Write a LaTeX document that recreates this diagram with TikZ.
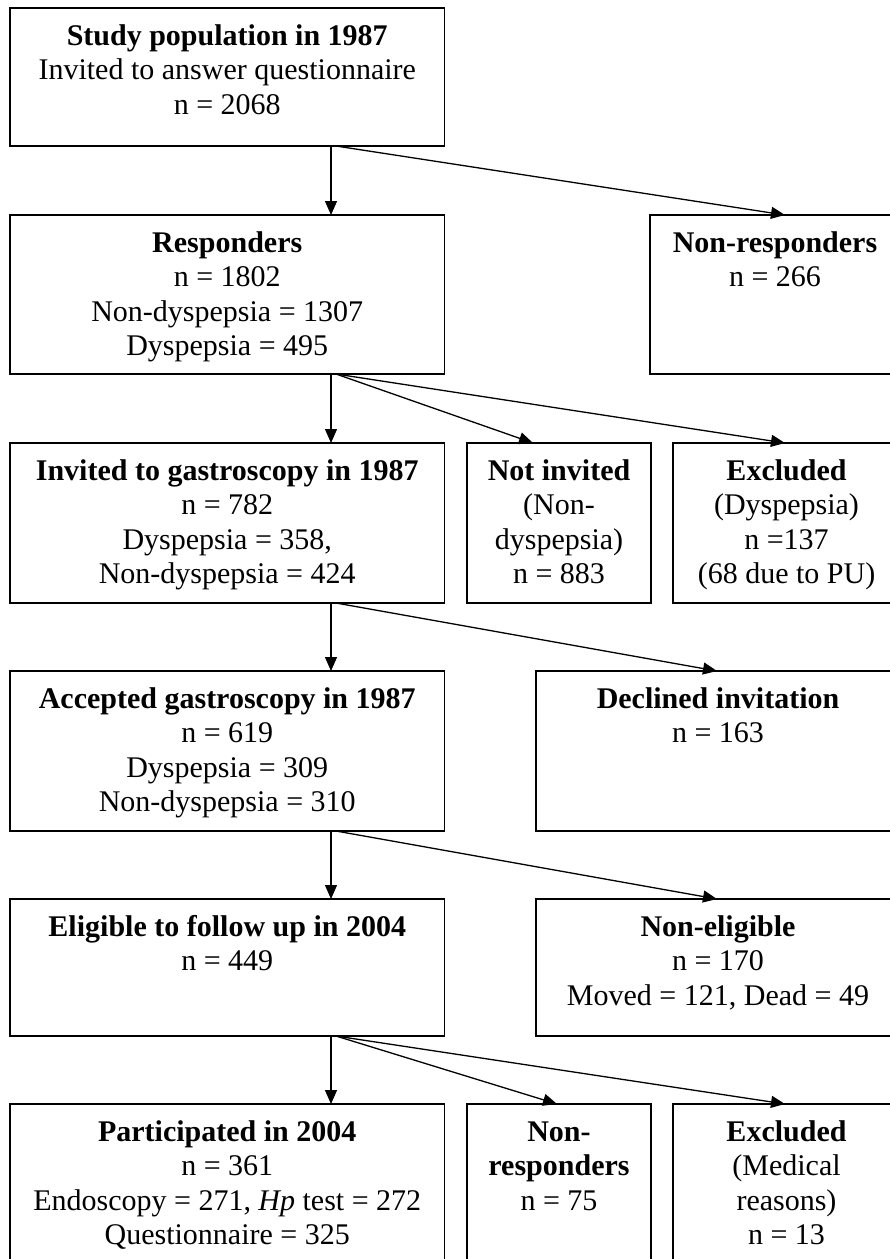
\documentclass[tikz,border=0pt]{standalone}
\usepackage{fontspec}
\setmainfont{Liberation Serif}
\usetikzlibrary{arrows.meta}
\begin{document}
\begin{tikzpicture}[x=1pt,y=-1pt,
  box/.style={draw, line width=1.5pt, inner sep=0pt, outer sep=0pt, anchor=north west},
  txt/.style={align=center, inner sep=0pt, anchor=north, font=\fontsize{30}{34.5}\selectfont},
  arr/.style={line width=1.3pt, -{Triangle[length=14pt,width=12pt]}}]
\useasboundingbox (0,0) rectangle (890,1259);
\clip (0,0) rectangle (890,1259);
% boxes
\node[box, minimum width=434.5pt, minimum height=138pt] (b1) at (10,8) {};
\node[box, minimum width=434.5pt, minimum height=159pt] (resp) at (10,215) {};
\node[box, minimum width=250pt, minimum height=159pt] (nonresp) at (650,215) {};
\node[box, minimum width=434.5pt, minimum height=160pt] (inv) at (10,443) {};
\node[box, minimum width=184pt, minimum height=160pt] (notinv) at (467,443) {};
\node[box, minimum width=227pt, minimum height=160pt] (exca) at (673,443) {};
\node[box, minimum width=434.5pt, minimum height=160pt] (acc) at (10,671) {};
\node[box, minimum width=364pt, minimum height=160pt] (dec) at (536,671) {};
\node[box, minimum width=434.5pt, minimum height=137pt] (elig) at (10,899) {};
\node[box, minimum width=364pt, minimum height=137pt] (nonelig) at (536,899) {};
\node[box, minimum width=434.5pt, minimum height=160pt] (part) at (10,1104) {};
\node[box, minimum width=184pt, minimum height=160pt] (nonrespb) at (467,1104) {};
\node[box, minimum width=227pt, minimum height=160pt] (excb) at (673,1104) {};
% texts
\node[txt] (t1) at ([yshift=-12.8pt]b1.north) {\strut\textbf{Study population in 1987}\\Invited to answer questionnaire\\n = 2068};
\node[txt] (t2) at ([yshift=-12.8pt]resp.north) {\strut\textbf{Responders}\\n = 1802\\Non-dyspepsia = 1307\\Dyspepsia = 495};
\node[txt] (t3) at ([yshift=-12.8pt]nonresp.north) {\strut\textbf{Non-responders}\\n = 266};
\node[txt] (t4) at ([yshift=-12.8pt]inv.north) {\strut\textbf{Invited to gastroscopy in 1987}\\n = 782\\Dyspepsia = 358,\\Non-dyspepsia = 424};
\node[txt] (t5) at ([yshift=-12.8pt]notinv.north) {\strut\textbf{Not invited}\\(Non-\\dyspepsia)\\n = 883};
\node[txt] (t6) at ([yshift=-12.8pt]exca.north) {\strut\textbf{Excluded}\\(Dyspepsia)\\n =137\\(68 due to PU)};
\node[txt] (t7) at ([yshift=-12.8pt]acc.north) {\strut\textbf{Accepted gastroscopy in 1987}\\n = 619\\Dyspepsia = 309\\Non-dyspepsia = 310};
\node[txt] (t8) at ([yshift=-12.8pt]dec.north) {\strut\textbf{Declined invitation}\\n = 163};
\node[txt] (t9) at ([yshift=-12.8pt]elig.north) {\strut\textbf{Eligible to follow up in 2004}\\n = 449};
\node[txt] (t10) at ([yshift=-12.8pt]nonelig.north) {\strut\textbf{Non-eligible}\\n = 170\\Moved = 121, Dead = 49};
\node[txt] (t11) at ([yshift=-12.8pt]part.north) {\strut\textbf{Participated in 2004}\\n = 361\\Endoscopy = 271, \textit{Hp} test = 272\\Questionnaire = 325};
\node[txt] (t12) at ([yshift=-12.8pt]nonrespb.north) {\strut\textbf{Non-}\\\textbf{responders}\\n = 75};
\node[txt] (t13) at ([yshift=-12.8pt]excb.north) {\strut\textbf{Excluded}\\(Medical\\reasons)\\n = 13};
% arrows
\draw[arr] ([xshift=321pt]b1.south west) -- ([xshift=321pt]resp.north west);
\draw[arr] ([xshift=326pt]b1.south west) -- ([xshift=135pt]nonresp.north west);
\draw[arr] ([xshift=321pt]resp.south west) -- ([xshift=321pt]inv.north west);
\draw[arr] ([xshift=326pt]resp.south west) -- ([xshift=66pt]notinv.north west);
\draw[arr] ([xshift=326pt]resp.south west) -- ([xshift=112pt]exca.north west);
\draw[arr] ([xshift=321pt]inv.south west) -- ([xshift=321pt]acc.north west);
\draw[arr] ([xshift=326pt]inv.south west) -- ([xshift=181pt]dec.north west);
\draw[arr] ([xshift=321pt]acc.south west) -- ([xshift=321pt]elig.north west);
\draw[arr] ([xshift=326pt]acc.south west) -- ([xshift=181pt]nonelig.north west);
\draw[arr] ([xshift=321pt]elig.south west) -- ([xshift=321pt]part.north west);
\draw[arr] ([xshift=326pt]elig.south west) -- ([xshift=90pt]nonrespb.north west);
\draw[arr] ([xshift=326pt]elig.south west) -- ([xshift=112pt]excb.north west);
\end{tikzpicture}
\end{document}
